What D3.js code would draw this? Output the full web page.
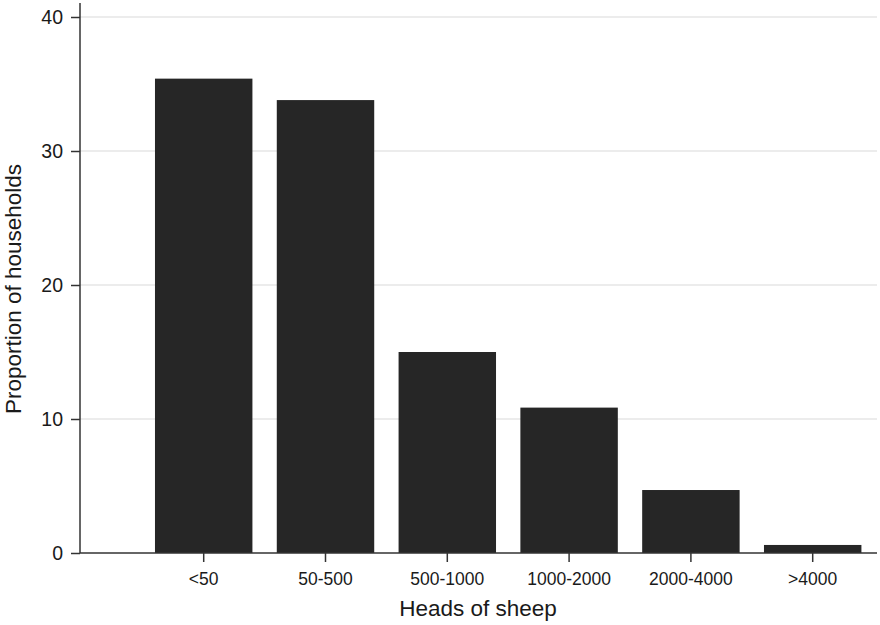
<!DOCTYPE html>
<html>
<head>
<meta charset="utf-8">
<script src="https://cdn.jsdelivr.net/npm/d3@7"></script>
<style>
  body { margin: 0; background: #fff; }
  text { font-family: "Liberation Sans", Arial, sans-serif; fill: #1a1a1a; }
</style>
</head>
<body>
<div id="chart"></div>
<script>
// heads of sheep categories and share of households (%)
const categories = ['<50', '50-500', '500-1000', '1000-2000', '2000-4000', '>4000'];
const proportions = [35.4, 33.8, 15.0, 10.85, 4.7, 0.6];
const yTicks = [0, 10, 20, 30, 40];

const width = 880, height = 625;
const plotLeft = 80, plotRight = 877, plotTop = 3, plotBottom = 553;

const svg = d3.select('#chart')
    .append('svg')
    .attr('width', width)
    .attr('height', height);

const y = d3.scaleLinear()
    .domain([0, 40])
    .range([plotBottom, 17]);

const x = d3.scaleBand()
    .domain(categories)
    .range([142.8, 873.6])
    .paddingInner(0.2)
    .paddingOuter(0.1);

// gridlines
svg.append('g')
    .attr('id', 'gridG')
    .selectAll('line')
    .data(yTicks.filter(d => d > 0))
    .join('line')
    .attr('x1', plotLeft)
    .attr('x2', plotRight)
    .attr('y1', d => y(d))
    .attr('y2', d => y(d))
    .attr('stroke', '#e6e6e6')
    .attr('stroke-width', 1.5);

// bars
svg.append('g')
    .attr('id', 'barG')
    .selectAll('rect')
    .data(categories)
    .join('rect')
    .attr('x', d => x(d))
    .attr('width', x.bandwidth())
    .attr('y', (d, i) => y(proportions[i]))
    .attr('height', (d, i) => plotBottom - y(proportions[i]))
    .attr('fill', '#262626');

// y axis
const yAxis = svg.append('g')
    .attr('transform', `translate(${plotLeft},0)`)
    .call(d3.axisLeft(y).tickValues(yTicks).tickSize(9).tickPadding(8).tickSizeOuter(0));
yAxis.select('.domain').remove();
yAxis.append('line')
    .attr('x1', 0).attr('x2', 0)
    .attr('y1', plotTop).attr('y2', plotBottom)
    .attr('stroke', '#333').attr('stroke-width', 1.5);
yAxis.selectAll('.tick line').attr('stroke', '#333').attr('stroke-width', 1.5);
yAxis.selectAll('.tick text').style('font-size', '19.5px');

// x axis
const xAxis = svg.append('g')
    .attr('transform', `translate(0,${plotBottom})`)
    .call(d3.axisBottom(x).tickSize(9).tickPadding(11).tickSizeOuter(0));
xAxis.select('.domain').remove();
xAxis.append('line')
    .attr('x1', plotLeft).attr('x2', plotRight)
    .attr('y1', 0).attr('y2', 0)
    .attr('stroke', '#333').attr('stroke-width', 1.5);
xAxis.selectAll('.tick line').attr('stroke', '#333').attr('stroke-width', 1.5);
xAxis.selectAll('.tick text').style('font-size', '17.5px');

// axis titles
svg.append('text')
    .attr('x', 478)
    .attr('y', 616)
    .attr('text-anchor', 'middle')
    .style('font-size', '22.5px')
    .text('Heads of sheep');

svg.append('text')
    .attr('transform', 'translate(21,289) rotate(-90)')
    .attr('text-anchor', 'middle')
    .style('font-size', '22.5px')
    .text('Proportion of households');
</script>
</body>
</html>
